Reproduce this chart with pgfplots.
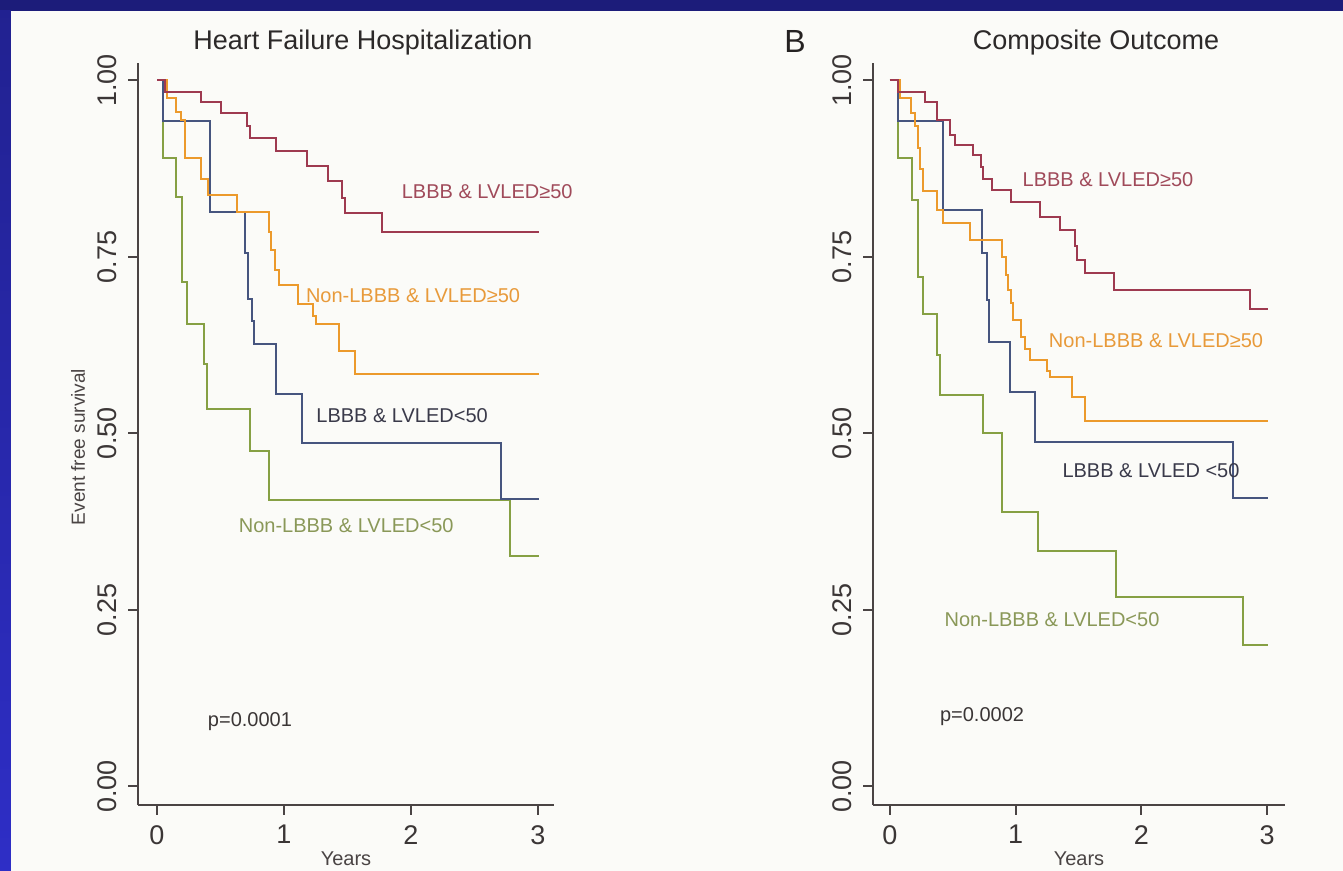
\documentclass[border=0pt]{standalone}
\usepackage{pgfplots}
\pgfplotsset{compat=1.18}
\usepackage{fontspec}
\setmainfont{Liberation Sans}
\definecolor{navy}{HTML}{1C1C7A}
\definecolor{brightblue}{HTML}{2E2EC6}
\definecolor{panel}{HTML}{FBFBF8}
\definecolor{axcol}{HTML}{4A4444}
\definecolor{kmred}{HTML}{9E3A50}
\definecolor{kmorange}{HTML}{EC9A2C}
\definecolor{kmblue}{HTML}{46557F}
\definecolor{kmgreen}{HTML}{86A044}
\definecolor{lblred}{HTML}{A04A5A}
\definecolor{lblorange}{HTML}{E89A3A}
\definecolor{lblblue}{HTML}{3A3A4A}
\definecolor{lblgreen}{HTML}{8A9858}
\pgfplotsset{kmaxis/.style={
  scale only axis, height=371pt,
  axis x line=bottom, axis y line=left,
  axis line style={-, draw=axcol, line width=1pt},
  tick align=outside, major tick length=5pt,
  tick style={draw=axcol, line width=1pt},
  ymin=-0.0262, ymax=1.0248,
  ytick={0,0.25,0.5,0.75,1}, yticklabels={0.00,0.25,0.50,0.75,1.00},
  xtick={0,1,2,3}, xticklabels={0,1,2,3},
  /pgf/number format/assume math mode=true,
  yticklabel style={rotate=90, anchor=south, inner sep=0pt, yshift=5.5pt, font=\fontsize{13.5}{13.5}\selectfont, text=axcol!80!black},
  xticklabel style={anchor=north, inner sep=0pt, yshift=-5pt, font=\fontsize{13.5}{13.5}\selectfont, text=axcol!80!black},
  clip=false,
  every axis plot/.append style={const plot, line width=1pt, no marks},
}}
\begin{document}
\begin{tikzpicture}
\useasboundingbox (0,0) rectangle (671.5pt,435.5pt);
\fill[navy] (0,0) rectangle (671.5pt,435.5pt);
\shade[top color=navy!70!brightblue, bottom color=brightblue] (0,0) rectangle (5.5pt,430pt);
\fill[panel] (5.5pt,0) rectangle (671.5pt,430pt);

% ---------- Panel A ----------
\begin{axis}[kmaxis, at={(69pt,33pt)}, anchor=south west, width=208pt,
  xmin=-0.1496, xmax=3.126]
\addplot[kmgreen] coordinates {(0,1) (0.05,0.890) (0.15,0.835) (0.20,0.714) (0.24,0.655) (0.37,0.599) (0.39,0.535) (0.73,0.475) (0.88,0.406) (2.78,0.326) (3.01,0.326)};
\addplot[kmblue] coordinates {(0,1) (0.05,0.942) (0.42,0.814) (0.69,0.755) (0.72,0.691) (0.75,0.659) (0.76,0.627) (0.94,0.556) (1.14,0.487) (2.71,0.407) (3.01,0.407)};
\addplot[kmorange] coordinates {(0,1) (0.076,0.975) (0.15,0.956) (0.19,0.944) (0.22,0.890) (0.35,0.861) (0.40,0.838) (0.63,0.814) (0.88,0.786) (0.90,0.760) (0.93,0.731) (0.96,0.710) (1.11,0.684) (1.23,0.667) (1.25,0.655) (1.43,0.617) (1.56,0.584) (3.01,0.584)};
\addplot[kmred] coordinates {(0,1) (0.06,0.984) (0.35,0.969) (0.50,0.954) (0.71,0.935) (0.73,0.918) (0.94,0.900) (1.18,0.879) (1.35,0.857) (1.46,0.833) (1.48,0.812) (1.77,0.785) (3.01,0.785)};
\node[text=lblred, font=\fontsize{10}{10}\selectfont] at (axis cs:2.60,0.842) {LBBB \& LVLED≥50};
\node[text=lblorange, font=\fontsize{10}{10}\selectfont] at (axis cs:2.016,0.696) {Non-LBBB \& LVLED≥50};
\node[text=lblblue, font=\fontsize{10}{10}\selectfont] at (axis cs:1.93,0.525) {LBBB \& LVLED<50};
\node[text=lblgreen, font=\fontsize{10}{10}\selectfont] at (axis cs:1.49,0.369) {Non-LBBB \& LVLED<50};
\node[text=axcol!80!black, font=\fontsize{10}{10}\selectfont] at (axis cs:0.732,0.0914) {p=0.0001};
\end{axis}

% ---------- Panel B ----------
\begin{axis}[kmaxis, at={(436.5pt,33pt)}, anchor=south west, width=206pt,
  xmin=-0.135, xmax=3.142]
\addplot[kmgreen] coordinates {(0,1) (0.066,0.890) (0.175,0.831) (0.225,0.722) (0.265,0.669) (0.37,0.611) (0.40,0.555) (0.74,0.500) (0.89,0.389) (1.18,0.334) (1.80,0.269) (2.81,0.200) (3.01,0.200)};
\addplot[kmblue] coordinates {(0,1) (0.066,0.942) (0.42,0.816) (0.73,0.755) (0.77,0.689) (0.79,0.630) (0.955,0.559) (1.154,0.488) (2.73,0.408) (3.01,0.408)};
\addplot[kmorange] coordinates {(0,1) (0.08,0.975) (0.17,0.954) (0.20,0.935) (0.22,0.905) (0.24,0.875) (0.265,0.843) (0.37,0.816) (0.42,0.798) (0.64,0.774) (0.89,0.750) (0.92,0.725) (0.94,0.703) (0.96,0.685) (0.98,0.661) (1.04,0.637) (1.07,0.620) (1.11,0.604) (1.25,0.588) (1.27,0.580) (1.45,0.552) (1.55,0.517) (3.01,0.517)};
\addplot[kmred] coordinates {(0,1) (0.066,0.984) (0.28,0.970) (0.37,0.944) (0.48,0.923) (0.52,0.909) (0.66,0.894) (0.72,0.878) (0.74,0.861) (0.81,0.845) (0.96,0.828) (1.19,0.807) (1.35,0.788) (1.47,0.765) (1.49,0.746) (1.55,0.727) (1.78,0.703) (2.86,0.677) (3.01,0.677)};
\node[text=lblred, font=\fontsize{10}{10}\selectfont] at (axis cs:1.734,0.859) {LBBB \& LVLED≥50};
\node[text=lblorange, font=\fontsize{10}{10}\selectfont] at (axis cs:2.116,0.632) {Non-LBBB \& LVLED≥50};
\node[text=lblblue, font=\fontsize{10}{10}\selectfont] at (axis cs:2.076,0.447) {LBBB \& LVLED <50};
\node[text=lblgreen, font=\fontsize{10}{10}\selectfont] at (axis cs:1.289,0.237) {Non-LBBB \& LVLED<50};
\node[text=axcol!80!black, font=\fontsize{10}{10}\selectfont] at (axis cs:0.732,0.0985) {p=0.0002};
\end{axis}

% titles and axis labels
\node[text=axcol!60!black, font=\fontsize{13.5}{13.5}\selectfont] at (181.5pt,414pt) {Heart Failure Hospitalization};
\node[text=axcol!60!black, font=\fontsize{13.5}{13.5}\selectfont] at (548pt,414pt) {Composite Outcome};
\node[text=axcol!50!black, font=\fontsize{16}{16}\selectfont] at (397.5pt,414.5pt) {B};
\node[text=axcol, font=\fontsize{9.5}{9.5}\selectfont, rotate=90] at (39pt,212pt) {Event free survival};
\node[text=axcol, font=\fontsize{10}{10}\selectfont, anchor=base, inner sep=0pt] at (173pt,2.5pt) {Years};
\node[text=axcol, font=\fontsize{10}{10}\selectfont, anchor=base, inner sep=0pt] at (539.5pt,2.5pt) {Years};
\end{tikzpicture}
\end{document}
